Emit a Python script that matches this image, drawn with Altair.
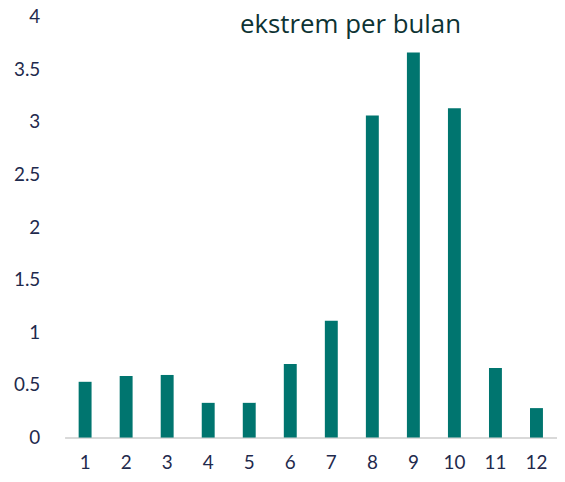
import altair as alt
import pandas as pd

months = ["1", "2", "3", "4", "5", "6", "7", "8", "9", "10", "11", "12"]
values = [0.53, 0.585, 0.595, 0.33, 0.33, 0.70, 1.11, 3.06, 3.66, 3.13, 0.66, 0.28]
y_ticks = [0, 0.5, 1, 1.5, 2, 2.5, 3, 3.5, 4]

df = pd.DataFrame({"bulan": months, "nilai": values})

chart = alt.Chart(df).mark_bar(color="#00756F").encode(
    x=alt.X("bulan:N", sort=months,
            scale=alt.Scale(paddingInner=0.685, paddingOuter=0.3425),
            axis=alt.Axis(title=None, labelAngle=0, ticks=False, domainColor="#d9d9d9",
                          domainWidth=2, labelFontSize=19, labelColor="#1f2a4d",
                          labelFont="Lato", labelPadding=16)),
    y=alt.Y("nilai:Q", scale=alt.Scale(domain=[0, 4], nice=False),
            axis=alt.Axis(title=None, values=y_ticks, format="~g", grid=False, domain=False,
                          ticks=False, labelFontSize=19, labelColor="#1f2a4d",
                          labelFont="Lato", labelPadding=25)),
).properties(
    width=496, height=424,
    title=alt.TitleParams("ekstrem per bulan", fontSize=26, font="Open Sans", fontWeight="normal",
                          color="#0d3333", offset=-11, dy=19, dx=40, anchor="middle"),
    autosize=alt.AutoSizeParams(type="none"),
    padding={"left": 57, "top": 7, "right": 0, "bottom": 36},
).configure_view(stroke=None)

chart.save("out.html", embed_options={"renderer": "svg", "actions": False})
